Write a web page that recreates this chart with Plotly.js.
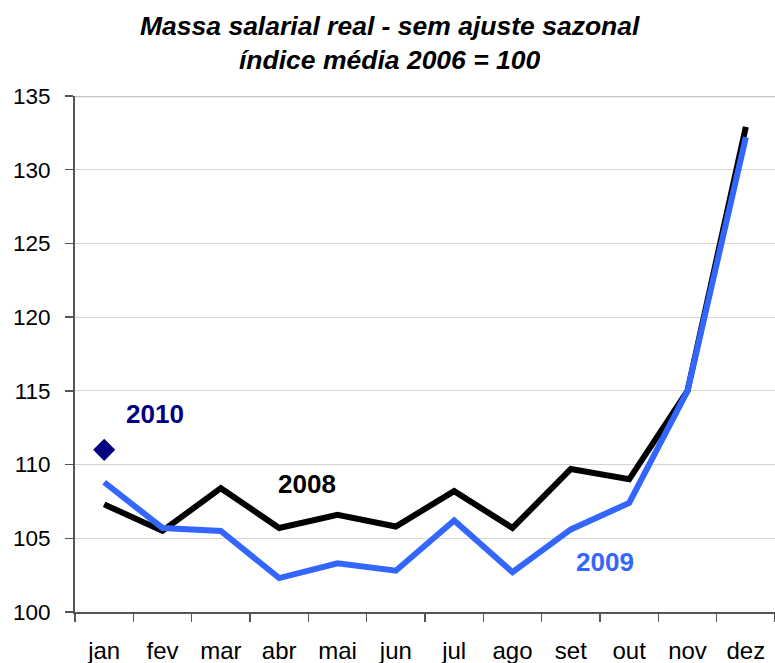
<!DOCTYPE html>
<html>
<head>
<meta charset="utf-8">
<script src="https://cdn.plot.ly/plotly-3.0.1.min.js"></script>
<style>html,body{margin:0;padding:0;background:#fff;}#chart{width:775px;height:663px;}</style>
</head>
<body>
<div id="chart"></div>
<script>
const months = ["jan","fev","mar","abr","mai","jun","jul","ago","set","out","nov","dez"];
const s2008 = [107.3,105.5,108.4,105.7,106.6,105.8,108.2,105.7,109.7,109.0,115.0,132.9];
const s2009 = [108.8,105.7,105.5,102.3,103.3,102.8,106.2,102.7,105.6,107.4,115.0,132.2];
const months2010 = ["jan"];
const s2010 = [111.0];
const yTicks = [100,105,110,115,120,125,130,135];
const titleLines = ["Massa salarial real - sem ajuste sazonal", "índice média 2006 = 100"];

const font = "Liberation Sans, Arial, sans-serif";
const traces = [
  {x: months, y: s2008, type:"scatter", mode:"lines", name:"2008",
   line:{color:"#000000", width:6}},
  {x: months, y: s2009, type:"scatter", mode:"lines", name:"2009",
   line:{color:"#3366FF", width:6}},
  {x: months2010, y: s2010, type:"scatter", mode:"markers", name:"2010",
   marker:{symbol:"diamond", color:"#000080", size:17}}
];
const layout = {
  width:775, height:663,
  margin:{l:75, r:0, t:96, b:51},
  paper_bgcolor:"#fff", plot_bgcolor:"#fff",
  showlegend:false,
  font:{family:font, color:"#000"},
  xaxis:{type:"category", categoryorder:"array", categoryarray:months, range:[-0.5,11.5],
    showgrid:false, showline:true, linecolor:"#555", linewidth:2,
    ticks:"outside", tickson:"boundaries", ticklen:8, tickcolor:"#555", tickwidth:1.5,
    tickfont:{size:24, color:"#000"}, ticklabelstandoff:16, zeroline:false},
  yaxis:{range:[100,135], tickvals:yTicks, showgrid:true, gridcolor:"#d4d4d4", gridwidth:1,
    showline:true, linecolor:"#555", linewidth:2, ticks:"outside", ticklen:8, tickcolor:"#555", tickwidth:1.5,
    tickfont:{size:22.5, color:"#000"}, ticklabelstandoff:10, zeroline:false},
  shapes:[
    {type:"line", xref:"paper", yref:"y", x0:0, x1:1, y0:135, y1:135, line:{color:"#c4c4c4", width:2.5}, layer:"below"}
  ],
  annotations:[
    {x:0.45, y:1.136, xref:"paper", yref:"paper", text:"<b><i>"+titleLines[0]+"</i></b>", showarrow:false,
     xanchor:"center", yanchor:"middle", font:{size:26.5, color:"#000", family:font}},
    {x:0.45, y:1.0700, xref:"paper", yref:"paper", text:"<b><i>"+titleLines[1]+"</i></b>", showarrow:false,
     xanchor:"center", yanchor:"middle", font:{size:26.5, color:"#000", family:font}},
    {x:0.87, y:113.4, xref:"x", yref:"y", text:"<b>2010</b>", showarrow:false, font:{size:26, color:"#000080", family:font}},
    {x:3.48, y:108.7, xref:"x", yref:"y", text:"<b>2008</b>", showarrow:false, font:{size:26, color:"#000000", family:font}},
    {x:8.59, y:103.4, xref:"x", yref:"y", text:"<b>2009</b>", showarrow:false, font:{size:26, color:"#3366FF", family:font}}
  ]
};
Plotly.newPlot("chart", traces, layout, {displayModeBar:false, staticPlot:true});
</script>
</body>
</html>
